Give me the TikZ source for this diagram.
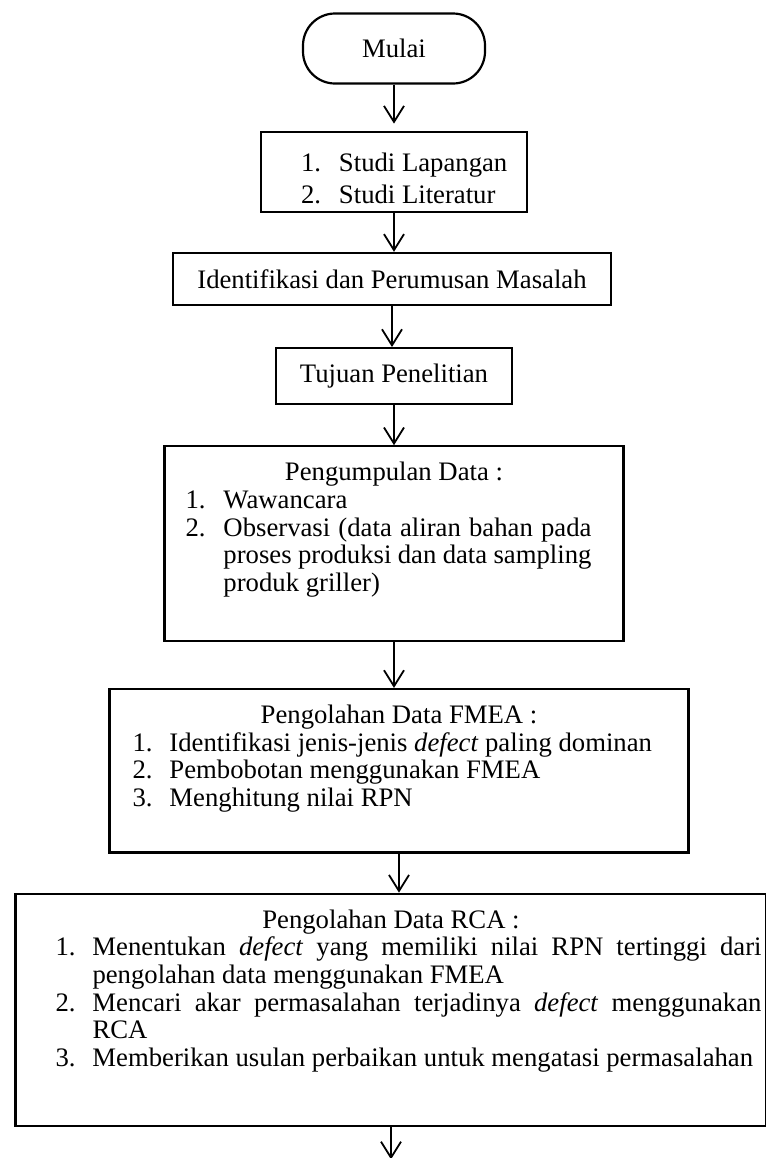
\documentclass[tikz,border=0pt]{standalone}
\usepackage{fontspec}
\setmainfont{Liberation Serif}
\usetikzlibrary{positioning, arrows.meta}

\hyphenpenalty=10000
\tolerance=9999

\newlength{\numwd}
\setlength{\numwd}{18.5pt}
\newcommand{\flhead}[1]{\noindent\makebox[\hsize]{#1}\par}
\newcommand{\flitem}[2]{\par\noindent\hangindent=\numwd\hangafter=1%
  \makebox[\numwd][l]{#1}#2\par}

\begin{document}
\begin{tikzpicture}[
  x=1pt, y=1pt,
  node distance=20pt,
  block/.style={
    draw,
    line width=1.1pt,
    inner sep=2.5pt,
    font=\fontsize{13.35pt}{13.8pt}\selectfont
  },
  terminal/.style={
    block,
    rounded corners=16pt,
    minimum width=91pt,
    minimum height=35pt
  },
  listbox/.style={
    block,
    align=justify,
    inner ysep=8pt
  },
  arrow/.style={
    -{Straight Barb[length=8pt,width=10pt]},
    line width=0.9pt
  }
]
\useasboundingbox (0,0) rectangle (383,-579);

\node[terminal] (mulai) at (197,-24.25) {Mulai};

\node[block, below=23pt of mulai, minimum width=133pt, minimum height=40pt,
  text width=128pt, align=justify,
  font=\fontsize{13.35pt}{16pt}\selectfont] (studi) {
  \leftskip=17.5pt\setlength{\numwd}{19pt}
  \flitem{1.}{Studi Lapangan}
  \flitem{2.}{Studi Literatur}
};

\node[block, below=19.5pt of studi, xshift=-1pt, minimum width=219pt,
  minimum height=26pt] (identifikasi) {Identifikasi dan Perumusan Masalah};

\node[block, below=20.5pt of identifikasi, xshift=1pt, minimum width=118pt,
  minimum height=28pt] (tujuan) {Tujuan Penelitian};

\node[listbox, below=of tujuan, text width=224.5pt, text depth=72pt] (pengumpulan) {
  \flhead{Pengumpulan Data :}
  \leftskip=8pt\rightskip=13.5pt\setlength{\numwd}{19pt}
  \flitem{1.}{Wawancara}
  \flitem{2.}{Observasi (data aliran bahan pada proses produksi dan data sampling produk griller)}
};

\node[listbox, below=23pt of pengumpulan, xshift=2.5pt, text width=284.5pt,
  text depth=56.5pt] (fmea) {
  \flhead{Pengolahan Data FMEA :}
  \leftskip=9pt
  \flitem{1.}{Identifikasi jenis-jenis \textit{defect} paling dominan}
  \flitem{2.}{Pembobotan menggunakan FMEA}
  \flitem{3.}{Menghitung nilai RPN}
};

\node[listbox, below=19.5pt of fmea, xshift=-4pt, text width=370.5pt,
  text depth=91pt] (rca) {
  \flhead{Pengolahan Data RCA :}
  \leftskip=17.5pt
  \flitem{1.}{Menentukan \textit{defect} yang memiliki nilai RPN tertinggi dari pengolahan data menggunakan FMEA}
  \flitem{2.}{Mencari akar permasalahan terjadinya \textit{defect} menggunakan RCA}
  \flitem{3.}{Memberikan usulan perbaikan untuk mengatasi permasalahan}
};

\coordinate (fin) at ([yshift=-16pt]rca.south);

\draw[arrow, shorten >=3.5pt] (mulai.south) -- (mulai.south |- studi.north);
\draw[arrow] (studi.south) -- (studi.south |- identifikasi.north);
\draw[arrow] (identifikasi.south) -- (identifikasi.south |- tujuan.north);
\draw[arrow] (tujuan.south) -- (tujuan.south |- pengumpulan.north);
\draw[arrow] (pengumpulan.south) -- (pengumpulan.south |- fmea.north);
\draw[arrow] (fmea.south) -- (fmea.south |- rca.north);
\draw[arrow] (rca.south) -- (fin);

\end{tikzpicture}
\end{document}
